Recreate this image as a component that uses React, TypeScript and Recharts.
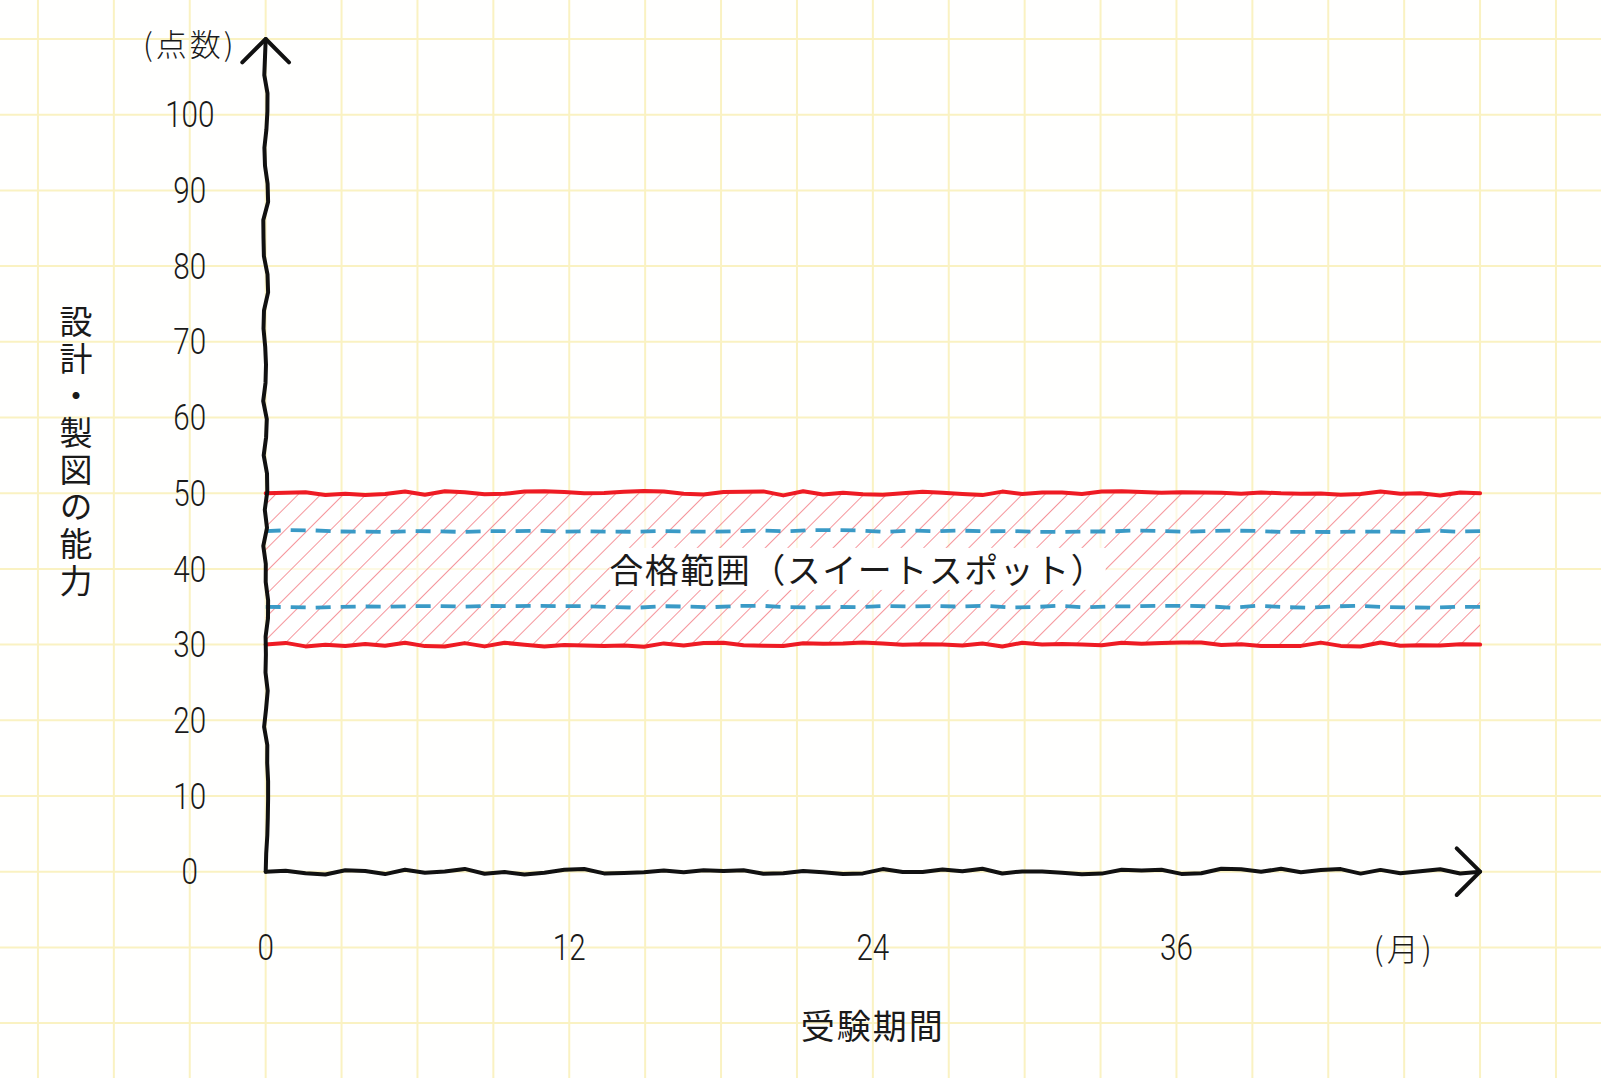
import React from 'react';
import {
  ComposedChart,
  XAxis,
  YAxis,
  CartesianGrid,
  ReferenceArea,
  ReferenceLine,
  ReferenceDot,
} from 'recharts';

// ---- data ----
const xTickValues = [0, 12, 24, 36];
const xTickLabels = ['0', '12', '24', '36'];
const xUnitValue = 45;
const xUnitLabel = '(月)';
const yTickValues = [0, 10, 20, 30, 40, 50, 60, 70, 80, 90, 100];
const yTickLabels = ['0', '10', '20', '30', '40', '50', '60', '70', '80', '90', '100'];
const yUnitValue = 110;
const yUnitLabel = '(点数)';
const passBand = [30, 50];
const sweetSpot = [35, 45];
const periodEnd = 48;
const yArrowTop = 110;
const gridX = [-9, -6, -3, 0, 3, 6, 9, 12, 15, 18, 21, 24, 27, 30, 33, 36, 39, 42, 45, 48, 51];
const gridY = [-20, -10, 0, 10, 20, 30, 40, 50, 60, 70, 80, 90, 100, 110];
const bandLabel = '合格範囲（スイートスポット）';
const xTitle = '受験期間';
const yTitle = '設計・製図の能力';
const frame = [{ m: 0 }, { m: periodEnd }];

// ---- layout (data-space placement of labels) ----
const xDomain = [-10.5, 52.78];
const yDomain = [-27.25, 115.15];
const yTickLabelX = -3;
const xTickLabelY = -10;
const yTitlePos = { x: -7.5, y: 55.3 };
const xTitlePos = { x: 24, y: -20.2 };
const bandLabelPos = { x: 23.4, y: 40 };

const JP = "'Noto Sans CJK JP', 'Noto Sans', sans-serif";
const NUM = "Roboto, 'Noto Sans', sans-serif";

function wobble(i: number, seed: number) {
  const s = Math.sin(i * 12.9898 + seed * 78.233) * 43758.5453;
  return s - Math.floor(s);
}

function wavy(x1: number, y1: number, x2: number, y2: number, amp: number, step: number, seed: number) {
  const dx = x2 - x1;
  const dy = y2 - y1;
  const len = Math.hypot(dx, dy) || 1;
  const n = Math.max(1, Math.round(len / step));
  const px = -dy / len;
  const py = dx / len;
  let d = '';
  for (let i = 0; i <= n; i++) {
    const t = i / n;
    const off = i === 0 || i === n ? 0 : (wobble(i, seed) - 0.5) * 2 * amp;
    const x = x1 + dx * t + px * off;
    const y = y1 + dy * t + py * off;
    d += (i ? 'L' : 'M') + x.toFixed(1) + ',' + y.toFixed(1);
  }
  return d;
}

function arrowHead(x1: number, y1: number, x2: number, y2: number, size: number) {
  const len = Math.hypot(x2 - x1, y2 - y1) || 1;
  const ux = (x2 - x1) / len;
  const uy = (y2 - y1) / len;
  const c = Math.SQRT1_2;
  const ax = x2 + size * (-ux * c + uy * c);
  const ay = y2 + size * (-uy * c - ux * c);
  const bx = x2 + size * (-ux * c - uy * c);
  const by = y2 + size * (-uy * c + ux * c);
  return `M${ax.toFixed(1)},${ay.toFixed(1)}L${x2.toFixed(1)},${y2.toFixed(1)}L${bx.toFixed(1)},${by.toFixed(1)}`;
}

const makeWavy = (color: string, width: number, amp: number, step: number, seed: number, dash?: string, arrow?: boolean) =>
  (p: any) => (
    <g>
      <path
        d={wavy(p.x1, p.y1, p.x2, p.y2, amp, step, seed)}
        fill="none"
        stroke={color}
        strokeWidth={width}
        strokeLinejoin="round"
        strokeLinecap={dash ? 'butt' : 'round'}
        strokeDasharray={dash}
      />
      {arrow ? (
        <path
          d={arrowHead(p.x1, p.y1, p.x2, p.y2, 33)}
          fill="none"
          stroke={color}
          strokeWidth={width}
          strokeLinejoin="round"
          strokeLinecap="round"
        />
      ) : null}
    </g>
  );

const textShape = (label: string, size: number, family: string, extra: any = {}) => (p: any) => (
  <text
    x={p.cx}
    y={p.cy}
    textAnchor="middle"
    dominantBaseline="central"
    fontSize={size}
    fontFamily={family}
    fill="#1a1a1a"
    {...extra}
  >
    {label}
  </text>
);

const numShape = (label: string) => (p: any) => (
  <text
    transform={`translate(${p.cx},${p.cy}) scale(0.8,1)`}
    x={0}
    y={0}
    textAnchor="middle"
    dominantBaseline="central"
    fontSize={37}
    fontWeight={300}
    fontFamily={NUM}
    fill="#1a1a1a"
  >
    {label}
  </text>
);

const bandLabelShape = (p: any) => (
  <g>
    <rect x={p.cx - 248} y={p.cy - 21} width={496} height={42} fill="#ffffff" />
    <text
      x={p.cx}
      y={p.cy}
      textAnchor="middle"
      dominantBaseline="central"
      fontSize={34}
      fontFamily={JP}
      letterSpacing={1.5}
      fill="#1a1a1a"
    >
      {bandLabel}
    </text>
  </g>
);

export default function App() {
  return (
    <div style={{ position: 'absolute', left: 0, top: 0, width: 1601, height: 1078, background: '#fffffe' }}>
      <ComposedChart width={1601} height={1078} data={frame} margin={{ top: 0, right: 0, bottom: 0, left: 0 }}>
        <defs>
          <pattern id="hatch" patternUnits="userSpaceOnUse" width={16} height={16} patternTransform="rotate(45)">
            <rect x={0} y={0} width={16} height={16} fill="rgba(255,255,255,0.55)" />
            <line x1={0} y1={0} x2={0} y2={16} stroke="#ef5a66" strokeWidth={1.3} />
          </pattern>
        </defs>
        <XAxis type="number" dataKey="m" domain={xDomain} ticks={gridX} hide allowDataOverflow />
        <YAxis type="number" domain={yDomain} ticks={gridY} hide allowDataOverflow />
        <CartesianGrid stroke="#faf2c2" strokeWidth={2} verticalValues={gridX} horizontalValues={gridY} />

        <ReferenceArea
          x1={0}
          x2={periodEnd}
          y1={passBand[0]}
          y2={passBand[1]}
          fill="url(#hatch)"
          fillOpacity={1}
          stroke="none"
        />
        <ReferenceDot x={bandLabelPos.x} y={bandLabelPos.y} r={0} shape={bandLabelShape} />

        <ReferenceLine
          segment={[{ x: 0, y: passBand[1] }, { x: periodEnd, y: passBand[1] }]}
          shape={makeWavy('#ee1b24', 4, 2.2, 20, 3)}
        />
        <ReferenceLine
          segment={[{ x: 0, y: passBand[0] }, { x: periodEnd, y: passBand[0] }]}
          shape={makeWavy('#ee1b24', 4, 2.2, 20, 7)}
        />
        <ReferenceLine
          segment={[{ x: 0, y: sweetSpot[1] }, { x: periodEnd, y: sweetSpot[1] }]}
          shape={makeWavy('#3a9ac6', 3.8, 1, 25, 11, '15 10')}
        />
        <ReferenceLine
          segment={[{ x: 0, y: sweetSpot[0] }, { x: periodEnd, y: sweetSpot[0] }]}
          shape={makeWavy('#3a9ac6', 3.8, 1, 25, 13, '15 10')}
        />

        <ReferenceLine
          segment={[{ x: 0, y: 0 }, { x: 0, y: yArrowTop }]}
          shape={makeWavy('#111111', 4, 2.5, 18, 17, undefined, true)}
        />
        <ReferenceLine
          segment={[{ x: 0, y: 0 }, { x: periodEnd, y: 0 }]}
          shape={makeWavy('#111111', 4, 3, 20, 23, undefined, true)}
        />

        {yTickValues.map((v, i) => (
          <ReferenceDot key={'y' + v} x={yTickLabelX} y={v} r={0} shape={numShape(yTickLabels[i])} />
        ))}
        <ReferenceDot
          x={yTickLabelX}
          y={yUnitValue - 0.5}
          r={0}
          shape={textShape(yUnitLabel, 31, JP, { letterSpacing: 3, fontWeight: 300 })}
        />
        {xTickValues.map((v, i) => (
          <ReferenceDot key={'x' + v} x={v} y={xTickLabelY} r={0} shape={numShape(xTickLabels[i])} />
        ))}
        <ReferenceDot
          x={xUnitValue}
          y={xTickLabelY}
          r={0}
          shape={textShape(xUnitLabel, 32, JP, { letterSpacing: 3, fontWeight: 300 })}
        />
        <ReferenceDot x={xTitlePos.x} y={xTitlePos.y} r={0} shape={textShape(xTitle, 34, JP, { letterSpacing: 2 })} />
        <ReferenceDot
          x={yTitlePos.x}
          y={yTitlePos.y}
          r={0}
          shape={textShape(yTitle, 33, JP, { style: { writingMode: 'vertical-rl' }, letterSpacing: 4 })}
        />
      </ComposedChart>
    </div>
  );
}
